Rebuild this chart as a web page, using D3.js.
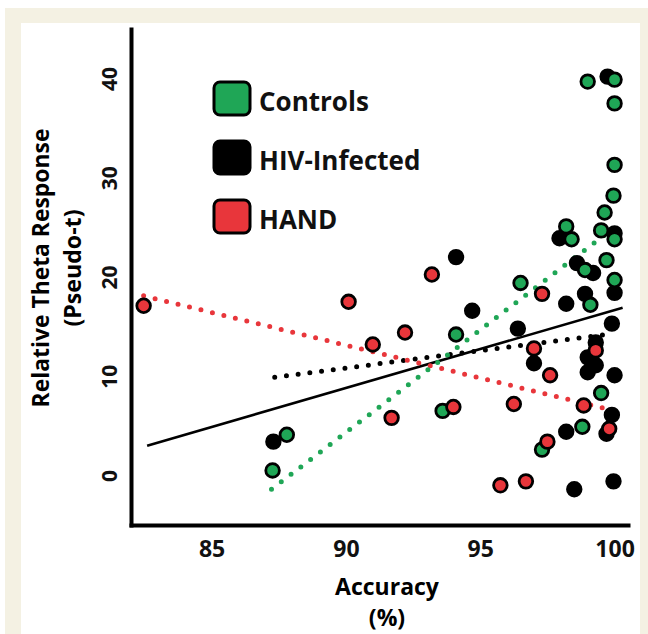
<!DOCTYPE html>
<html>
<head>
<meta charset="utf-8">
<script src="https://cdn.jsdelivr.net/npm/d3@7"></script>
<style>
  body { margin: 0; background: #fff; }
  svg { display: block; font-family: "Open Sans", sans-serif; font-weight: 700; }
</style>
</head>
<body>
<div id="chart"></div>
<script>
// Values: [accuracy %, pseudo-t]
const controls = [
    [99.0, 39.7], [100, 39.9], [100, 37.5], [100, 31.3], [99.96, 28.2],
    [99.63, 26.5], [98.2, 25.1], [98.4, 23.8], [99.5, 24.7], [100, 23.8],
    [99.7, 21.7], [98.9, 20.7], [100, 19.7], [96.5, 19.4], [99.1, 17.2],
    [99.5, 8.3], [98.8, 4.9], [97.3, 2.6], [94.1, 14.2], [93.6, 6.5],
    [87.8, 4.1], [87.27, 0.5]
];
const hivInfected = [
    [99.74, 40.2], [97.95, 23.9], [100, 24.4], [98.6, 21.4], [99.2, 20.4],
    [100, 18.4], [98.2, 17.3], [98.9, 18.3], [96.4, 14.8], [99.9, 15.3],
    [97.0, 11.3], [99.3, 13.4], [99.0, 11.9], [99.3, 11.1], [99.0, 10.4],
    [100, 10.1], [99.9, 6.1], [98.2, 4.4], [99.7, 4.2], [98.5, -1.4],
    [99.96, -0.6], [94.1, 22.0], [94.7, 16.6], [87.3, 3.4]
];
const hand = [
    [82.47, 17.1], [90.1, 17.5], [93.2, 20.25], [92.2, 14.4], [91.0, 13.2],
    [91.7, 5.8], [94.0, 6.9], [97.3, 18.3], [97.0, 12.8], [99.3, 12.6],
    [97.6, 10.1], [96.25, 7.2], [98.85, 7.05], [99.8, 4.7], [97.5, 3.4],
    [95.75, -1.0], [96.7, -0.6]
];

// Fit lines as drawn (end points)
const controlsFit = [[87.23, -1.4], [99.85, 24.7]];
const hivFit = [[87.35, 9.9], [99.96, 14.3]];
const handFit = [[82.47, 18.1], [99.65, 6.75]];
const allFit = [[82.6, 3.0], [100.3, 16.9]];

const xTicks = [85, 90, 95, 100];
const yTicks = [0, 10, 20, 30, 40];

const legendLabels = ["Controls", "HIV-Infected", "HAND"];
const legendColors = ["#1fa656", "#000000", "#e8363b"];

const W = 648, H = 634;
const svg = d3.select("#chart").append("svg")
    .attr("width", W)
    .attr("height", H);

// page background: cream frame and white panel
svg.append("rect").attr("x", 5).attr("y", 8).attr("width", W - 5).attr("height", H - 8).attr("fill", "#f4f1e3");
svg.append("rect").attr("x", 21).attr("y", 23).attr("width", 619).attr("height", H - 23).attr("fill", "#fff");

const x = d3.scaleLinear().domain([82, 100.5]).range([131, 628]);
const y = d3.scaleLinear().domain([-5, 45]).range([525, 29]);

// axes
const xAxis = svg.append("g")
    .attr("transform", `translate(0,${y.range()[0]})`)
    .call(d3.axisBottom(x).tickValues(xTicks).tickSize(0).tickSizeOuter(0).tickPadding(16));
xAxis.selectAll("text").attr("font-size", 23).attr("fill", "#111").attr("font-family", "Open Sans");

const yAxis = svg.append("g")
    .attr("transform", `translate(${x.range()[0]},0)`)
    .call(d3.axisLeft(y).tickValues(yTicks).tickSize(0).tickSizeOuter(0));
yAxis.selectAll("text")
    .attr("font-size", 21)
    .attr("fill", "#111")
    .attr("font-family", "Open Sans")
    .attr("text-anchor", "middle")
    .attr("x", 0)
    .attr("y", -14)
    .attr("dy", null)
    .attr("transform", "rotate(-90)");

svg.selectAll(".domain").attr("stroke", "#000").attr("stroke-width", 4).attr("stroke-linecap", "square");

// shrink a title's font so it spans the width seen in the figure
function fitWidth(sel, target) {
    const size = +sel.attr("font-size");
    const len = sel.node().getComputedTextLength();
    if (len > 0) sel.attr("font-size", (size * target / len).toFixed(2));
}

// axis titles
svg.append("text").attr("x", 387).attr("y", 595).attr("text-anchor", "middle").attr("font-size", 23).text("Accuracy");
svg.append("text").attr("x", 387).attr("y", 626).attr("text-anchor", "middle").attr("font-size", 23).text("(%)");
const yTitle1 = svg.append("text").attr("transform", "translate(49,268) rotate(-90)").attr("text-anchor", "middle").attr("font-size", 23).text("Relative Theta Response");
const yTitle2 = svg.append("text").attr("transform", "translate(81,268) rotate(-90)").attr("text-anchor", "middle").attr("font-size", 23).text("(Pseudo-t)");
fitWidth(yTitle1, 279);
fitWidth(yTitle2, 117);

// fit lines
const line = d3.line().x(d => x(d[0])).y(d => y(d[1]));
const dotted = (pts, color, gap) => svg.append("path")
    .attr("d", line(pts))
    .attr("fill", "none")
    .attr("stroke", color)
    .attr("stroke-width", 5)
    .attr("stroke-linecap", "round")
    .attr("stroke-dasharray", `0 ${gap}`);

svg.append("path").attr("d", line(allFit)).attr("fill", "none").attr("stroke", "#000").attr("stroke-width", 2.6);
dotted(hivFit, "#000", 11.8);
dotted(handFit, legendColors[2], 11.8);
dotted(controlsFit, legendColors[0], 12.3);

// points
const groups = [
    { data: hivInfected, color: legendColors[1] },
    { data: controls, color: legendColors[0] },
    { data: hand, color: legendColors[2] }
];
groups.forEach(g => {
    svg.append("g").selectAll("circle")
        .data(g.data)
        .enter()
        .append("circle")
        .attr("cx", d => x(d[0]))
        .attr("cy", d => y(d[1]))
        .attr("r", 6.8)
        .attr("fill", g.color)
        .attr("stroke", "#000")
        .attr("stroke-width", 2.8);
});

// legend
const legend = svg.append("g").selectAll("g")
    .data(legendLabels)
    .enter()
    .append("g")
    .attr("transform", (d, i) => `translate(214,${82 + i * 59})`);
legend.append("rect")
    .attr("width", 36).attr("height", 33).attr("rx", 6)
    .attr("fill", (d, i) => legendColors[i])
    .attr("stroke", "#000").attr("stroke-width", 3);
legend.append("text")
    .attr("x", 45).attr("y", 29)
    .attr("font-size", 26)
    .attr("fill", "#111")
    .text(d => d);
</script>
</body>
</html>
